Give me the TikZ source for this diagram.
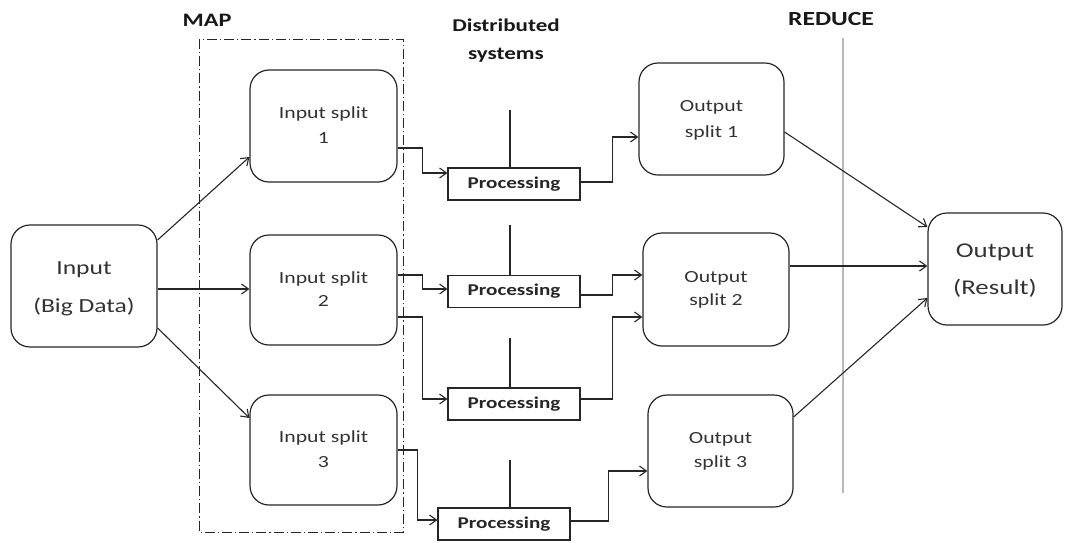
\documentclass[tikz,border=0pt]{standalone}
\usepackage{fontspec}
\setmainfont{Carlito}[FakeStretch=1.28]
\usetikzlibrary{arrows.meta,calc}
\newcommand{\lifted}[2][7pt]{\raisebox{#1}{\begin{tabular}{@{}c@{}}#2\end{tabular}}}
\begin{document}
\begin{tikzpicture}[x=1pt,y=-1pt,
  rbox/.style={draw=black!85,line width=1.2pt,rounded corners=19pt,align=center,inner sep=0pt,text=black!80},
  procbox/.style={draw=black!85,line width=1.1pt,minimum width=132pt,minimum height=32pt,inner sep=0pt,font=\fontsize{16.5}{18}\selectfont\bfseries,text=black!85},
  arr/.style={draw=black!85,line width=1.1pt,-{Straight Barb[length=7pt,width=10pt]}},
  ln/.style={draw=black!85,line width=1.1pt},
  lbl/.style={font=\fontsize{19}{28}\selectfont\bfseries,align=center,text=black!90}
]
\useasboundingbox (0,0) rectangle (1067,542);
% labels
\node[lbl] (maplbl) at (207,20) {MAP};
\node[lbl,font=\fontsize{18}{28}\selectfont\bfseries] (dslbl) at (506,41) {Distributed\\systems};
\node[lbl,font=\fontsize{20}{28}\selectfont\bfseries] (redlbl) at (831,19) {REDUCE};
% MAP frame
\draw[black!85,line width=1pt,dash pattern=on 10pt off 3pt on 1.2pt off 3pt] (199,39) rectangle (403,532);
% reduce line
\coordinate (rt) at (843,38);
\coordinate (rb) at (843,493);
\draw[gray!55,line width=1.8pt] (rt) -- (rb);
% nodes
\node[rbox,minimum width=146pt,minimum height=122pt,font=\fontsize{20}{38}\selectfont] (in) at (84,286) {\lifted[5pt]{Input\\(Big Data)}};
\node[rbox,minimum width=147pt,minimum height=112pt,font=\fontsize{17}{25}\selectfont] (s1) at (323.5,126) {\lifted[6pt]{Input split\\1}};
\node[rbox,minimum width=147pt,minimum height=110pt,font=\fontsize{17}{23}\selectfont] (s2) at (323.5,290) {\lifted[9pt]{Input split\\2}};
\node[rbox,minimum width=147pt,minimum height=110pt,font=\fontsize{17}{25}\selectfont] (s3) at (323.5,450) {\lifted[7.5pt]{Input split\\3}};
\node[procbox] (p1) at (514,184) {Processing};
\node[procbox] (p2) at (514,291.5) {Processing};
\node[procbox] (p3) at (514,404) {Processing};
\node[procbox] (p4) at (504,524) {Processing};
\node[rbox,minimum width=145pt,minimum height=112pt,font=\fontsize{17}{26}\selectfont] (o1) at (711.5,119) {\lifted[7pt]{Output\\split 1}};
\node[rbox,minimum width=146pt,minimum height=113pt,font=\fontsize{17}{23}\selectfont] (o2) at (716,289.5) {\lifted[9pt]{Output\\split 2}};
\node[rbox,minimum width=145pt,minimum height=112pt,font=\fontsize{17}{24}\selectfont] (o3) at (720.5,451) {\lifted[8pt]{Output\\split 3}};
\node[rbox,minimum width=134pt,minimum height=112pt,font=\fontsize{21}{37}\selectfont] (out) at (995,269) {\lifted[5.5pt]{Output\\(Result)}};
% stems above processing
\coordinate (t1) at (510,110);
\coordinate (t2) at (510,225);
\coordinate (t3) at (510,338);
\coordinate (t4) at (510,460);
\draw[ln] (t1) -- (t1 |- p1.north);
\draw[ln] (t2) -- (t2 |- p2.north);
\draw[ln] (t3) -- (t3 |- p3.north);
\draw[ln] (t4) -- (t4 |- p4.north);
% input to splits
\draw[arr] ([yshift=46pt]in.east) -- ([yshift=-31pt]s1.west);
\draw[arr] ([yshift=-3pt]in.east) -- ([yshift=1pt]s2.west);
\draw[arr] ([yshift=-42pt]in.east) -- ([yshift=32pt]s3.west);
% splits to processing
\draw[arr] ([yshift=-22pt]s1.east) -- ++(25,0) |- ([yshift=11pt]p1.west);
\draw[arr] ([yshift=15pt]s2.east) -- ++(25,0) |- ([yshift=2.5pt]p2.west);
\draw[arr] ([yshift=-27pt]s2.east) -- ++(25,0) |- ([yshift=5pt]p3.west);
\draw[arr] (s3.east) -- ++(20,0) |- ([yshift=4pt]p4.west);
% processing to outputs
\draw[arr] ([yshift=2pt]p1.east) -- ++(32,0) |- ([yshift=-18pt]o1.west);
\draw[arr] ([yshift=-3.5pt]p2.east) -- ++(32,0) |- ([yshift=14.5pt]o2.west);
\draw[arr] ([yshift=5pt]p3.east) -- ++(32,0) |- ([yshift=-27.5pt]o2.west);
\draw[arr] ([yshift=3pt]p4.east) -- ++(38,0) |- ([yshift=-20pt]o3.west);
% outputs to final
\draw[arr] ([yshift=-13pt]o1.east) -- ([yshift=42pt]out.west);
\draw[arr] ([yshift=23.5pt]o2.east) -- ([yshift=3pt]out.west);
\draw[arr] ([yshift=34pt]o3.east) -- ([yshift=-29pt]out.west);
\end{tikzpicture}
\end{document}
